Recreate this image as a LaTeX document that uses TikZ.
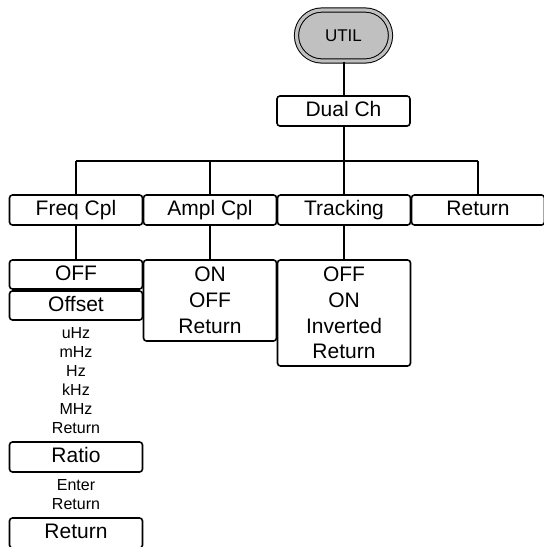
\documentclass[tikz,border=0pt]{standalone}
\usepackage{fontspec}
\setmainfont{Liberation Sans}
\usetikzlibrary{positioning}
\definecolor{keygray}{HTML}{C0C0C0}

\begin{document}
\begin{tikzpicture}[
    x=0.5pt, y=-0.5pt,
    key/.style={rectangle, draw, line width=0.5pt, rounded corners=12.7pt, fill=keygray, double=keygray, double distance=1.6pt, minimum width=47pt, minimum height=25.5pt, font=\fontsize{8.5}{10}\selectfont},
    box/.style={rectangle, draw, line width=0.8pt, rounded corners=1.5pt, minimum width=66.5pt, inner sep=0pt},
    menu/.style={box, minimum height=15pt, text height=7.6pt, text depth=2pt, font=\fontsize{10.5}{13}\selectfont},
    opts/.style={box, align=center, font=\fontsize{10.5}{12.9}\selectfont},
    small/.style={inner sep=0pt, font=\fontsize{8}{9.5}\selectfont},
    wire/.style={line width=1pt}
]
    \useasboundingbox (0,0) rectangle (544,547);

    % UTIL key
    \node[key] (util) at (343.5,35.5) {UTIL};
    \node[menu] (dual) at (343.5,111) {Dual Ch};
    \coordinate (bus) at (343.5,161);

    % Dual Ch menu
    \node[menu] (freq) at (76,210) {Freq Cpl};
    \node[menu] (ampl) at (210,210) {Ampl Cpl};
    \node[menu] (track) at (344,210) {Tracking};
    \node[menu] (ret) at (478,210) {Return};

    % Freq Cpl
    \node[menu, minimum height=14.5pt] (off) at (76,274.5) {OFF};
    \node[menu, minimum height=14.5pt] (offset) at (76,305.5) {Offset};
    \node[small] (uhz) at (76,333) {uHz};
    \node[small] (mhz) at (76,352) {mHz};
    \node[small] (hz) at (76,371) {Hz};
    \node[small] (khz) at (76,390) {kHz};
    \node[small] (bighz) at (76,409) {MHz};
    \node[small] (ret1) at (76,428) {Return};
    \node[menu] (ratio) at (76,457) {Ratio};
    \node[small] (enter) at (76,485) {Enter};
    \node[small] (ret2) at (76,504) {Return};
    \node[menu] (ret3) at (76,533) {Return};

    % Ampl Cpl, Tracking
    \node[opts, minimum height=40.5pt] (amplopts) at (210,300.5) {ON\\OFF\\Return};
    \node[opts, minimum height=53pt] (trackopts) at (344,313) {OFF\\ON\\Inverted\\Return};

    % Wires
    \draw[wire] (util) -- (dual);
    \draw[wire] (dual) -- (bus);
    \draw[wire] (freq.north |- bus) -- (ret.north |- bus);
    \foreach \n in {freq,ampl,track,ret}
        \draw[wire] (\n.north) -- (\n.north |- bus);
    \draw[wire] (freq) -- (off);
    \draw[wire] (ampl) -- (amplopts);
    \draw[wire] (track) -- (trackopts);
\end{tikzpicture}
\end{document}
